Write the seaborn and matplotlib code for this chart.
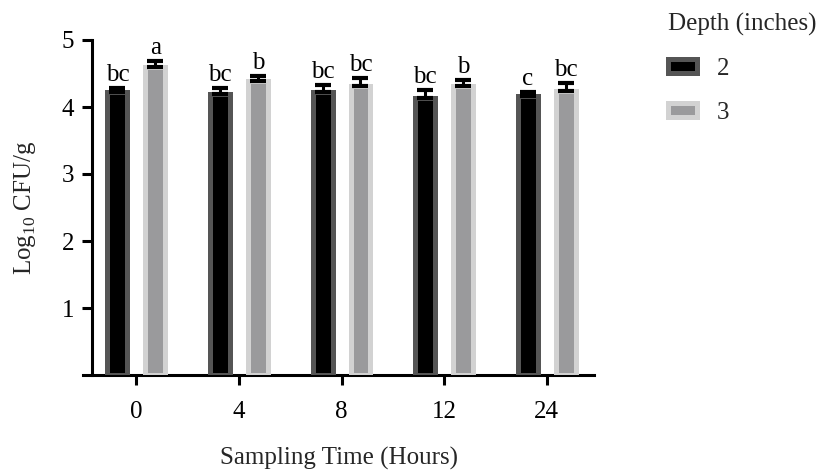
import numpy as np
import pandas as pd
import matplotlib
matplotlib.use("Agg")
import matplotlib.pyplot as plt
import seaborn as sns
from matplotlib.patches import Patch

times = ["0", "4", "8", "12", "24"]
depth2_mean = [4.22, 4.19, 4.22, 4.14, 4.17]
depth2_err = [0.06, 0.10, 0.11, 0.11, 0.06]
depth3_mean = [4.59, 4.39, 4.32, 4.32, 4.24]
depth3_err = [0.10, 0.07, 0.12, 0.09, 0.12]
letters2 = ["bc", "bc", "bc", "bc", "c"]
letters3 = ["a", "b", "bc", "b", "bc"]
depths = ["2", "3"]

sns.set_style("ticks")
plt.rcParams["font.family"] = ["Liberation Serif", "DejaVu Serif"]
plt.rcParams["mathtext.fontset"] = "custom"
plt.rcParams["mathtext.rm"] = "Liberation Serif"

df = pd.DataFrame({
    "time": times * 2,
    "depth": [depths[0]] * 5 + [depths[1]] * 5,
    "value": depth2_mean + depth3_mean,
})

fig = plt.figure(figsize=(8.22, 4.73), dpi=100)
ax = fig.add_axes([83 / 822, (473 - 375) / 473, (594 - 83) / 822, (375 - 40) / 473])

face = {"2": "#000000", "3": "#9a9a9c"}
edge = {"2": "#555555", "3": "#d2d2d2"}
sns.barplot(data=df, x="time", y="value", hue="depth", order=times,
            hue_order=depths, palette=face, width=0.737, gap=0.473,
            errorbar=None, ax=ax, legend=False, zorder=3)

off = 0.184
lw_edge = 3.6
for p in ax.patches:
    key = "2" if p.get_facecolor()[0] < 0.3 else "3"
    p.set_edgecolor(edge[key])
    p.set_linewidth(lw_edge)

fs = 18
xs = np.arange(len(times))
for means, errs, letters, sgn in [(depth2_mean, depth2_err, letters2, -1),
                                  (depth3_mean, depth3_err, letters3, 1)]:
    xp = xs + sgn * off
    ax.errorbar(xp, means, yerr=[np.zeros(len(means)), errs], fmt="none",
                ecolor="black", elinewidth=2.2, capsize=6, capthick=3, zorder=4)
    for xi, m, e, t in zip(xp, means, errs, letters):
        ax.text(xi, m + e + 0.03, t, ha="center", va="bottom", fontsize=fs,
                color="black")

ax.set_ylim(0, 5)
ax.set_xlim(-0.52, 4.46)
ax.set_yticks([1, 2, 3, 4, 5])
ax.spines["left"].set_position(("data", -0.43))
ax.spines["top"].set_visible(False)
ax.spines["right"].set_visible(False)
for s in ["left", "bottom"]:
    ax.spines[s].set_linewidth(2.2)
    ax.spines[s].set_color("black")
ax.tick_params(axis="both", width=2.2, length=7, labelsize=fs, colors="black", pad=6)
ax.tick_params(axis="x", pad=12)
ax.set_xlabel("Sampling Time (Hours)", fontsize=fs, labelpad=17)
ax.set_ylabel("Log$_{10}$ CFU/g", fontsize=fs, labelpad=17)

handles = [Patch(facecolor=face[d], edgecolor=edge[d], linewidth=lw_edge) for d in depths]
leg = fig.legend(handles, depths, title="Depth (inches)", loc="upper left",
                 bbox_to_anchor=(658 / 822, 0.994), frameon=False, fontsize=fs,
                 title_fontsize=fs, handlelength=1.15, handleheight=0.5,
                 labelspacing=0.88, handletextpad=0.8, borderpad=0.2,
                 borderaxespad=0.2)
leg._legend_box.align = "left"

fig.savefig("out.png", dpi=100)
